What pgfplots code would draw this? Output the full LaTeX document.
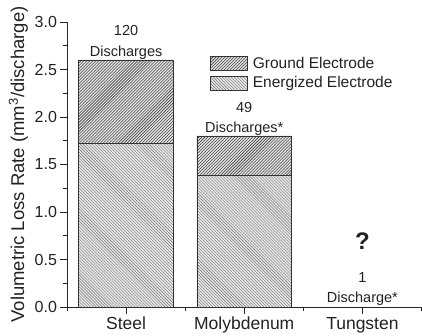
\documentclass[border=0pt]{standalone}
\usepackage{fontspec}
\setmainfont{Liberation Sans}
\usepackage{pgfplots}
\pgfplotsset{compat=1.18}
\usetikzlibrary{patterns}
\definecolor{txt}{HTML}{222222}
\pgfplotsset{myleg/.style={legend image code/.code={\draw[##1] (0bp,-7bp) rectangle (37bp,7bp);}}}
\begin{document}
\begin{tikzpicture}
\begin{axis}[
  name=ax,
  scale only axis, width=354.5bp, height=285bp,
  xmin=0.5, xmax=3.5, ymin=0, ymax=3,
  axis x line*=bottom, axis y line*=left,
  axis line style={-, line width=0.9bp, color=black!85},
  ybar stacked, bar width=0.8,
  xtick={1,2,3}, xticklabels={Steel,Molybdenum,Tungsten},
  minor xtick={0.5,1.5,2.5,3.5},
  ytick={0,0.5,1,1.5,2,2.5,3},
  yticklabels={0.0,0.5,1.0,1.5,2.0,2.5,3.0},
  minor ytick={0.25,0.75,1.25,1.75,2.25,2.75},
  tick align=outside,
  major tick length=6.5bp, minor tick length=3.5bp,
  every tick/.style={line width=0.9bp, black!85},
  xticklabel style={font=\fontsize{17.5bp}{20bp}\selectfont, text=txt},
  yticklabel style={font=\fontsize{16bp}{19bp}\selectfont, text=txt},
  ylabel={Volumetric Loss Rate (mm\textsuperscript{3}/discharge)},
  ylabel style={font=\fontsize{18.5bp}{20bp}\selectfont, text=txt},
  legend style={at={(rel axis cs:0.403,0.885)}, anchor=north west, draw=none, fill=none,
    font=\fontsize{15.5bp}{18bp}\selectfont, text=txt, inner sep=0pt, row sep=3bp,
    /tikz/every odd column/.append style={column sep=3bp}},
  legend cell align=left,
  reverse legend,
]
\addplot[fill=gray!18, draw=black!80, line width=0.8bp,
  postaction={pattern=north west lines, pattern color=black!55}, myleg]
  coordinates {(1,1.72) (2,1.38)};
\addlegendentry{Energized Electrode}
\addplot[fill=gray!25, draw=black!80, line width=0.8bp,
  postaction={pattern=north east lines, pattern color=black!85}, myleg]
  coordinates {(1,0.88) (2,0.42)};
\addlegendentry{Ground Electrode}
\node[anchor=south, align=center, inner sep=0pt, text=txt, font=\fontsize{14.5bp}{21bp}\selectfont] at (axis cs:1,2.6) {120\\Discharges};
\node[anchor=south, align=center, inner sep=0pt, text=txt, font=\fontsize{14.5bp}{20bp}\selectfont] at (axis cs:2,1.8) {49\\Discharges*};
\node[anchor=south, align=center, inner sep=0pt, text=txt, font=\fontsize{14.5bp}{20bp}\selectfont] at (axis cs:3,0.01) {1\\Discharge*};
\node[text=txt, font=\fontsize{24bp}{26bp}\selectfont\bfseries] at (axis cs:3,0.69) {?};
\end{axis}
\pgfresetboundingbox
\path ([shift={(-67bp,-29bp)}]ax.south west) rectangle ([shift={(0.5bp,22bp)}]ax.north east);
\end{tikzpicture}
\end{document}
